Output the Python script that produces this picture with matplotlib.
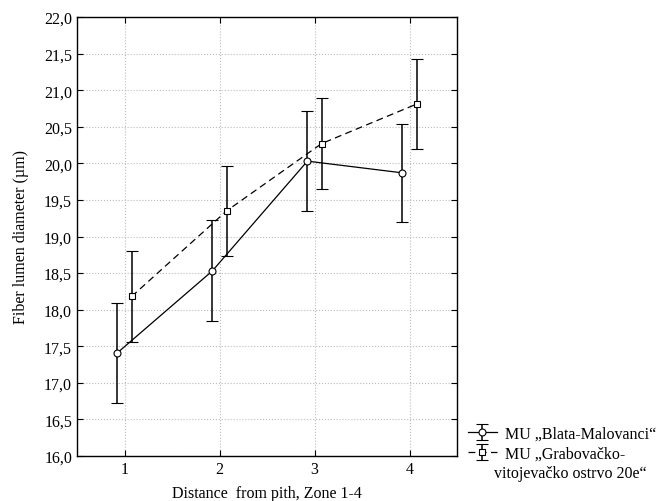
import numpy as np
import matplotlib
matplotlib.use('Agg')
import matplotlib.pyplot as plt
from matplotlib.ticker import FuncFormatter, MultipleLocator

plt.rcParams['font.family'] = ['Liberation Serif', 'DejaVu Serif']

zones = [1, 2, 3, 4]
blata_mean = [17.41, 18.53, 20.03, 19.87]
blata_err = [0.68, 0.69, 0.68, 0.67]
grab_mean = [18.18, 19.35, 20.27, 20.81]
grab_err = [0.62, 0.62, 0.62, 0.62]
labels = ['MU \u201eBlata-Malovanci\u201c', 'MU \u201eGrabova\u010dko-']
label_cont = 'vitojeva\u010dko ostrvo 20e\u201c'

dodge = 0.075
x = np.array(zones, dtype=float)
fs = 11.5

fig = plt.figure(figsize=(6.69, 5.02), dpi=100)
ax = fig.add_axes([77 / 669, 1 - 457 / 502, 380 / 669, 439 / 502])

h1 = ax.errorbar(x - dodge, blata_mean, yerr=blata_err, color='black', lw=0.9,
                 elinewidth=1.1, capsize=4, capthick=1.1, marker='o', ms=5,
                 mfc='white', mec='black', mew=0.8, ls='-', label=labels[0])
h2 = ax.errorbar(x + dodge, grab_mean, yerr=grab_err, color='black', lw=0.9,
                 elinewidth=1.1, capsize=4, capthick=1.1, marker='s', ms=4.5,
                 mfc='white', mec='black', mew=0.8, ls=(0, (5.5, 3.5)), label=labels[1])

ax.set_xlim(0.5, 4.5)
ax.set_ylim(16.0, 22.0)
ax.set_xticks(zones)
ax.yaxis.set_major_locator(MultipleLocator(0.5))
ax.yaxis.set_major_formatter(FuncFormatter(lambda v, p: f'{v:.1f}'.replace('.', ',')))
ax.tick_params(direction='in', top=True, right=True, length=4, width=0.8, labelsize=fs)
ax.grid(True, color='#bbbbbb', ls=':', lw=0.8)
for s in ax.spines.values():
    s.set_linewidth(1.0)

ax.set_xlabel('Distance  from pith, Zone 1-4', fontsize=fs, labelpad=6)
ax.set_ylabel('Fiber lumen diameter (\u00b5m)', fontsize=fs, labelpad=11)

fig.legend([h1, h2], labels, loc='upper left', bbox_to_anchor=(460 / 669, 1 - 419 / 502),
           frameon=False, fontsize=fs, handlelength=1.8, handletextpad=0.5,
           labelspacing=0.22, borderpad=0)
fig.text(494 / 669, 1 - 474 / 502, label_cont, fontsize=fs, ha='left', va='center')

fig.savefig('out.png', dpi=100)
